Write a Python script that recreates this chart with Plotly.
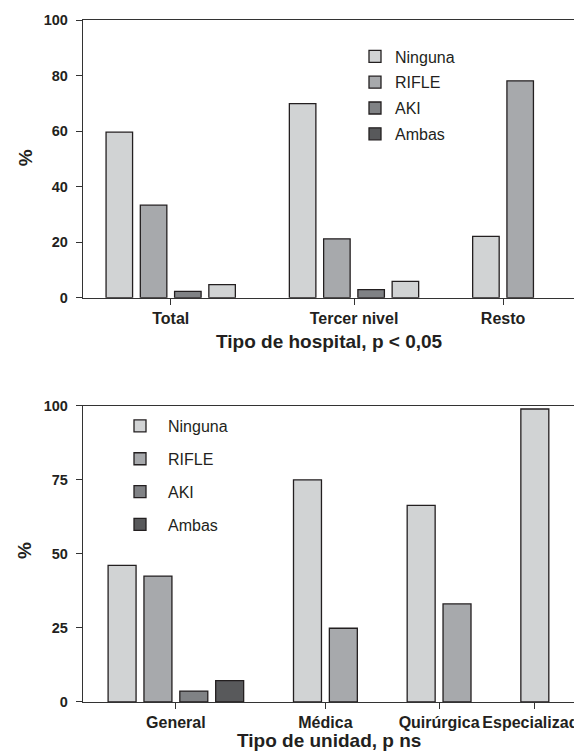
import plotly.graph_objects as go

# ---------------- data ----------------
series_names = ["Ninguna", "RIFLE", "AKI", "Ambas"]

hospital_cats = ["Total", "Tercer nivel", "Resto"]
hosp_ninguna = [59.6, 69.9, 22.1]
hosp_rifle = [33.3, 21.2, 78.1]
hosp_aki = [2.3, 2.9, None]
hosp_ambas = [4.7, 5.9, None]

unidad_cats = ["General", "Médica", "Quirúrgica", "Especializada"]
unid_ninguna = [46.1, 75.0, 66.4, 98.9]
unid_rifle = [42.5, 24.9, 33.1, None]
unid_aki = [3.7, None, None, None]
unid_ambas = [7.2, None, None, None]

hosp_ticks = [0, 20, 40, 60, 80, 100]
unid_ticks = [0, 25, 50, 75, 100]

# ---------------- style ----------------
colors = ["#d1d3d4", "#a7a9ac", "#808285", "#58595b"]
# in the top panel the "Ambas" bars are printed in the light tone
top_bar_colors = ["#d1d3d4", "#a7a9ac", "#808285", "#d1d3d4"]
edge = "#231f20"
axis_col = "#333333"
FONT = "Liberation Sans, Arial, Helvetica, sans-serif"

# the page body adds an 8px offset; size the figure so it ends at the window edge
OFF = 8
W, H = 582 - OFF, 754 - OFF
ml, mr, mt, mb = 83 - OFF, 7, 19.5 - OFF, 51.7
pw = W - ml - mr
ph = H - mt - mb


def xfrac(px):
    """window pixel x -> paper fraction"""
    return (px - OFF - ml) / pw


def yfrac(py):
    """window pixel y -> paper fraction"""
    return (H - mb - (py - OFF)) / ph


def layout_positions(series, group_gap):
    """Sequential slot positions: only present bars occupy a slot."""
    n_groups = len(series[0])
    xs = [[None] * n_groups for _ in series]
    centers = []
    pos = 0.0
    for g in range(n_groups):
        present = [s for s in range(len(series)) if series[s][g] is not None]
        if g > 0:
            pos += group_gap - 1
        gp = []
        for s in present:
            xs[s][g] = pos
            gp.append(pos)
            pos += 1
        centers.append(sum(gp) / len(gp))
    return xs, centers


fig = go.Figure()

# top panel
top_series = [hosp_ninguna, hosp_rifle, hosp_aki, hosp_ambas]
top_x, top_centers = layout_positions(top_series, 2.35)
for i, (name, vals) in enumerate(zip(series_names, top_series)):
    xs = [x for x, v in zip(top_x[i], vals) if v is not None]
    ys = [v for v in vals if v is not None]
    same = top_bar_colors[i] == colors[i]
    fig.add_trace(go.Bar(
        x=xs, y=ys, name=name, width=0.774,
        marker=dict(color=top_bar_colors[i], line=dict(color=edge, width=1.3)),
        xaxis="x", yaxis="y", legend="legend", legendgroup="t" + name,
        showlegend=same,
    ))
    if not same:
        # legend entry keeps the series' own tone
        fig.add_trace(go.Bar(
            x=[None], y=[None], name=name,
            marker=dict(color=colors[i], line=dict(color=edge, width=1.3)),
            xaxis="x", yaxis="y", legend="legend", legendgroup="t" + name,
        ))

# bottom panel
bot_series = [unid_ninguna, unid_rifle, unid_aki, unid_ambas]
bot_x, bot_centers = layout_positions(bot_series, 2.17)
for i, (name, vals) in enumerate(zip(series_names, bot_series)):
    xs = [x for x, v in zip(bot_x[i], vals) if v is not None]
    ys = [v for v in vals if v is not None]
    fig.add_trace(go.Bar(
        x=xs, y=ys, name=name, width=0.78,
        marker=dict(color=colors[i], line=dict(color=edge, width=1.3)),
        xaxis="x2", yaxis="y2", legend="legend2", legendgroup="b" + name,
    ))

xtickfont = dict(family=FONT, size=16, color="#231f20", weight="bold")
ytickfont = dict(family=FONT, size=14.5, color="#231f20", weight="bold")
titlefont = dict(family=FONT, size=19, color="#231f20", weight="bold")

common_x = dict(showgrid=False, zeroline=False, showline=True, mirror=True,
                linecolor=axis_col, linewidth=1.3, ticks="outside", ticklen=6,
                tickwidth=1.3, tickcolor=axis_col, tickfont=xtickfont,
                tickangle=0, ticklabelstandoff=0, ticklabeloverflow="allow",
                fixedrange=True, automargin=False)
common_y = dict(showgrid=False, zeroline=False, showline=True, mirror=True,
                linecolor=axis_col, linewidth=1.3, ticks="outside", ticklen=6,
                tickwidth=1.3, tickcolor=axis_col, tickfont=ytickfont,
                ticklabelstandoff=5, fixedrange=True, automargin=False)

titles = [
    dict(text="Tipo de hospital, p < 0,05", x=xfrac(329), y=yfrac(341), textangle=0),
    dict(text="Tipo de unidad, p ns", x=xfrac(329), y=yfrac(741), textangle=0),
    dict(text="%", x=xfrac(25), y=yfrac(158), textangle=-90),
    dict(text="%", x=xfrac(25), y=yfrac(551), textangle=-90),
]
annotations = [dict(a, xref="paper", yref="paper", xanchor="center", yanchor="middle",
                    showarrow=False, font=titlefont) for a in titles]

fig.update_layout(
    width=W, height=H,
    margin=dict(l=ml, r=mr, t=mt, b=mb),
    paper_bgcolor="white", plot_bgcolor="white",
    barmode="overlay",
    font=dict(family=FONT, color="#231f20"),
    xaxis=dict(common_x, domain=[0, 1], anchor="y", range=[-1.06, 13.3],
               tickvals=top_centers, ticktext=hospital_cats),
    yaxis=dict(common_y, domain=[yfrac(297.5), 1], anchor="x", range=[0, 100],
               tickvals=hosp_ticks),
    xaxis2=dict(common_x, domain=[0, 1], anchor="y2", range=[-1.09, 12.63],
                tickvals=bot_centers, ticktext=unidad_cats),
    yaxis2=dict(common_y, domain=[0, yfrac(405.7)], anchor="x2", range=[0, 100],
                tickvals=unid_ticks),
    annotations=annotations,
    legend=dict(x=xfrac(355), xanchor="left", y=yfrac(39), yanchor="top",
                font=dict(family=FONT, size=16, color="#231f20"),
                bgcolor="rgba(0,0,0,0)", tracegroupgap=2, traceorder="grouped"),
    legend2=dict(x=xfrac(112), xanchor="left", y=yfrac(409), yanchor="top",
                 font=dict(family=FONT, size=16, color="#231f20"), itemwidth=46,
                 bgcolor="rgba(0,0,0,0)", tracegroupgap=9, traceorder="grouped"),
)

fig.write_html("out.html")
